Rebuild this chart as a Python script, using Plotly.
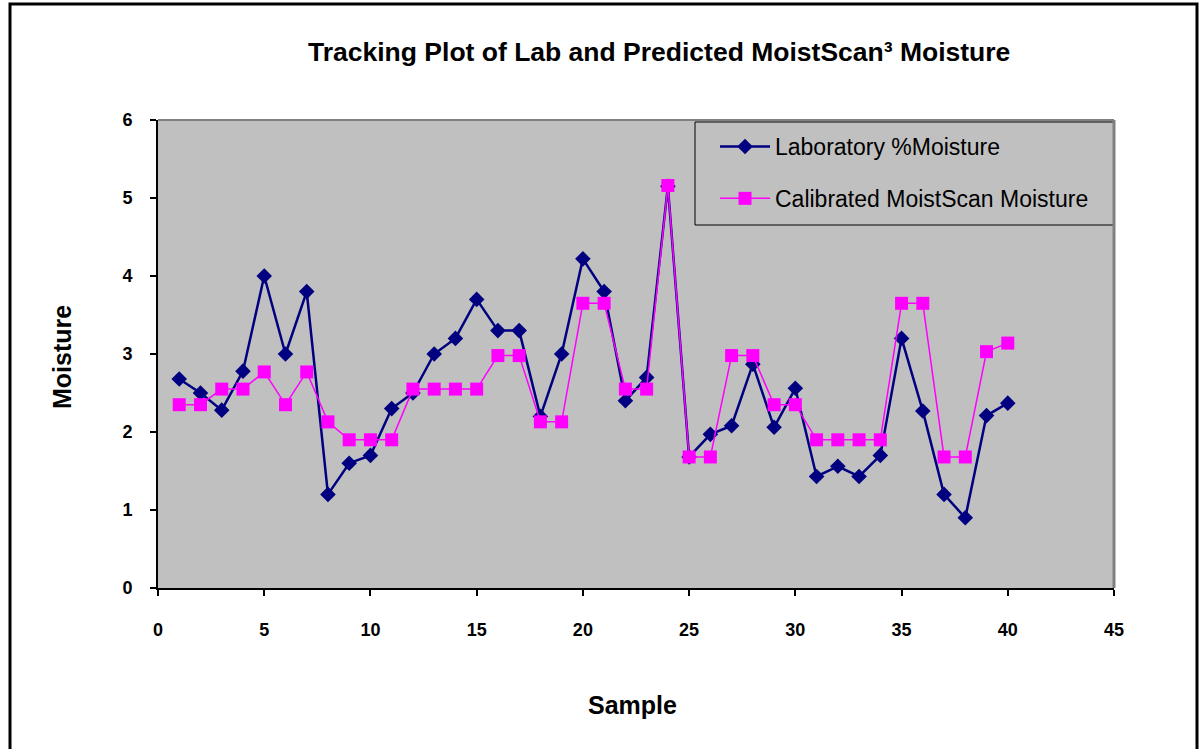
import plotly.graph_objects as go

samples = list(range(1, 41))
lab_moisture = [2.68, 2.50, 2.28, 2.78, 4.00, 3.00, 3.80, 1.20, 1.60, 1.70,
                2.30, 2.50, 3.00, 3.20, 3.70, 3.30, 3.30, 2.20, 3.00, 4.22,
                3.80, 2.40, 2.70, 5.15, 1.68, 1.97, 2.08, 2.87, 2.06, 2.56,
                1.43, 1.56, 1.43, 1.70, 3.20, 2.27, 1.20, 0.90, 2.21, 2.37]
calibrated_moisture = [2.35, 2.35, 2.55, 2.55, 2.77, 2.35, 2.77, 2.13, 1.90, 1.90,
                       1.90, 2.55, 2.55, 2.55, 2.55, 2.98, 2.98, 2.13, 2.13, 3.65,
                       3.65, 2.55, 2.55, 5.16, 1.68, 1.68, 2.98, 2.98, 2.35, 2.35,
                       1.90, 1.90, 1.90, 1.90, 3.65, 3.65, 1.68, 1.68, 3.03, 3.14]
x_ticks = [0, 5, 10, 15, 20, 25, 30, 35, 40, 45]
y_ticks = [0, 1, 2, 3, 4, 5, 6]

W, H = 1202, 749
L, R, T, B = 158, 1114, 120, 588

def px(x):
    return (x - L) / (R - L)

def py(y):
    return (B - y) / (B - T)

fig = go.Figure()
fig.add_trace(go.Scatter(
    x=samples, y=lab_moisture, mode="lines+markers",
    name="Laboratory %Moisture", legendgroup="a",
    line=dict(color="#000080", width=2.5),
    marker=dict(symbol="diamond", size=12, color="#000080"),
))
fig.add_trace(go.Scatter(
    x=samples, y=calibrated_moisture, mode="lines+markers",
    name="Calibrated MoistScan Moisture", legendgroup="b",
    line=dict(color="#FF00FF", width=1.5),
    marker=dict(symbol="square", size=13, color="#FF00FF"),
))

tickfont = dict(family="Liberation Sans, Arial", size=18, color="black", weight="bold")

fig.update_layout(
    width=W, height=H,
    margin=dict(l=L, r=W - R, t=T, b=H - B),
    paper_bgcolor="white",
    plot_bgcolor="#C0C0C0",
    showlegend=True,
    legend=dict(
        x=px(715), y=py(125), xanchor="left", yanchor="top",
        bgcolor="rgba(0,0,0,0)", borderwidth=0,
        font=dict(family="Liberation Sans, Arial", size=23, color="black"),
        tracegroupgap=19, traceorder="grouped", itemwidth=50,
    ),
    xaxis=dict(
        range=[0, 45], tickvals=x_ticks, showgrid=False, zeroline=False,
        showline=True, linecolor="black", linewidth=2,
        ticks="outside", ticklen=6, tickwidth=2, tickcolor="black",
        tickfont=tickfont, ticklabelstandoff=18,
    ),
    yaxis=dict(
        range=[0, 6], tickvals=y_ticks, showgrid=False, zeroline=False,
        showline=True, linecolor="black", linewidth=2,
        ticks="outside", ticklen=6, tickwidth=2, tickcolor="black",
        tickfont=tickfont, ticklabelstandoff=14,
    ),
    shapes=[
        dict(type="line", xref="paper", yref="paper", x0=0, x1=1, y0=1, y1=1,
             line=dict(color="#808080", width=2)),
        dict(type="line", xref="paper", yref="paper", x0=1, x1=1, y0=0, y1=1,
             line=dict(color="#808080", width=3)),
        dict(type="rect", xref="paper", yref="paper",
             x0=px(695), x1=px(1114), y0=py(225), y1=py(122),
             line=dict(color="black", width=1), fillcolor="#C0C0C0", layer="below"),
        dict(type="rect", xref="paper", yref="paper",
             x0=px(10), x1=px(1197), y0=py(760), y1=py(4),
             line=dict(color="black", width=3), fillcolor="rgba(0,0,0,0)"),
    ],
    annotations=[
        dict(text="Tracking Plot of Lab and Predicted MoistScan³ Moisture",
             xref="paper", yref="paper", x=px(659), y=py(52),
             xanchor="center", yanchor="middle", showarrow=False,
             font=dict(family="Liberation Sans, Arial", size=26.5, color="black", weight="bold")),
        dict(text="Moisture", xref="paper", yref="paper", x=px(62), y=py(357),
             xanchor="center", yanchor="middle", showarrow=False, textangle=-90,
             font=dict(family="Liberation Sans, Arial", size=25, color="black", weight="bold")),
        dict(text="Sample", xref="paper", yref="paper", x=px(632), y=py(705),
             xanchor="center", yanchor="middle", showarrow=False,
             font=dict(family="Liberation Sans, Arial", size=25, color="black", weight="bold")),
    ],
)

fig.write_html("out.html", config={"displayModeBar": False},
               post_script="document.body.style.margin='0';document.body.style.padding='0';")
